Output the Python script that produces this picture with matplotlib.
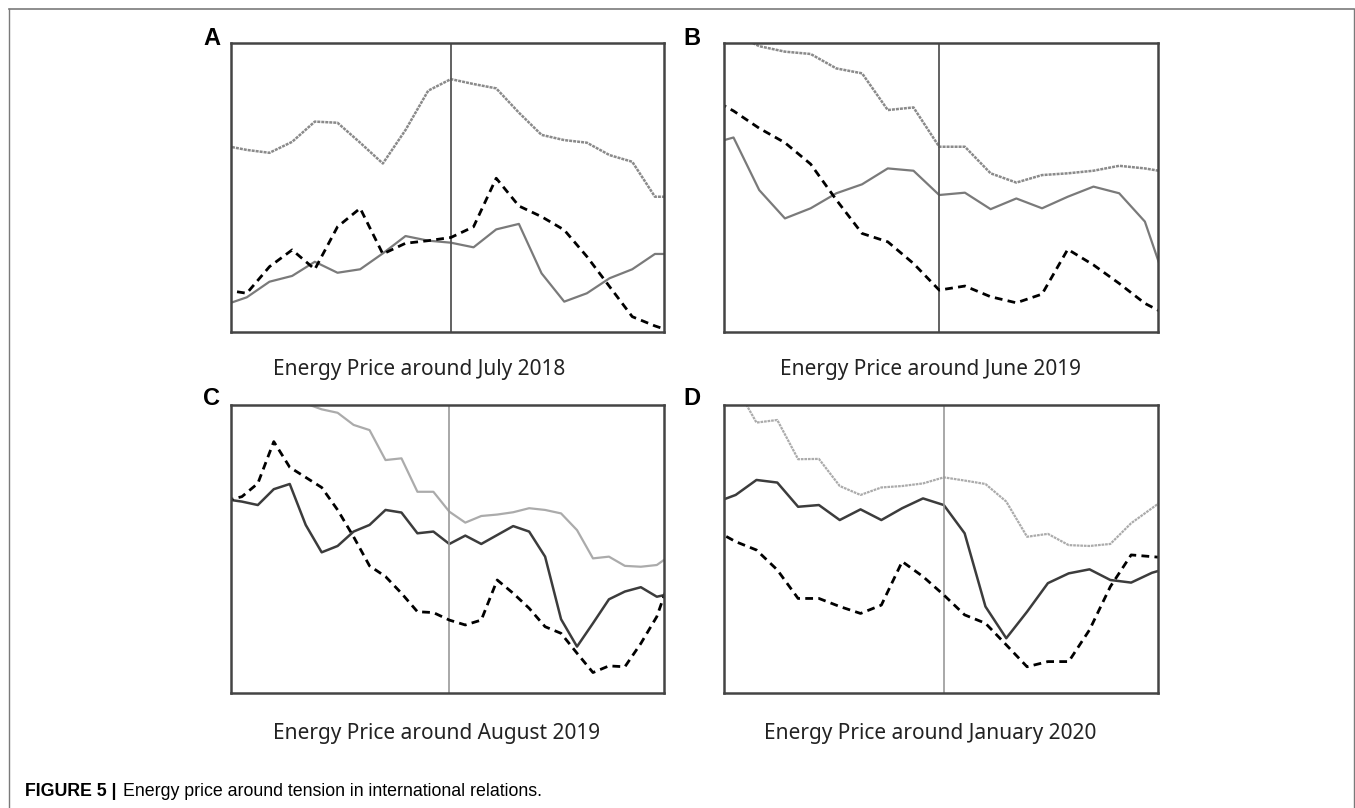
import numpy as np
import matplotlib
matplotlib.use("Agg")
import matplotlib.pyplot as plt
from matplotlib.lines import Line2D

# days relative to the event (vertical line at 0)
days_a = np.arange(-10, 11)
days_b = np.arange(-9, 10)
days_c = np.arange(-14, 15)
days_d = np.arange(-11, 12)

# panel A - July 2018 (values scaled 0-100 of the panel height)
a_dotted = [64.4, 62.9, 61.9, 65.7, 72.7, 72.3, 65.4, 58.2, 69.8, 83.4, 87.4,
            85.7, 84.2, 75.8, 68.1, 66.3, 65.4, 61.1, 58.8, 46.7, 46.7]
a_solid = [9.2, 11.9, 17.3, 19.3, 24.2, 20.4, 21.6, 27.1, 33.1, 31.5, 30.8,
           29.2, 35.4, 37.3, 20.2, 10.4, 13.3, 18.5, 21.6, 26.9, 26.9]
a_dashed = [14.5, 13.3, 22.5, 28.3, 21.6, 36.3, 42.7, 26.9, 30.6, 31.5, 32.6,
            36.3, 53.1, 43.5, 39.8, 35.2, 26.0, 15.6, 5.2, 2.0, -0.6]

# panel B - June 2019
b_dotted = [105.5, 103.2, 98.8, 96.9, 96.1, 91.1, 89.4, 76.7, 77.6, 64.0,
            64.0, 54.8, 51.6, 54.2, 54.8, 55.7, 57.4, 56.5, 55.0]
b_solid = [64.7, 67.2, 49.0, 39.2, 42.7, 47.9, 51.0, 56.5, 55.7, 47.3,
           48.1, 42.4, 46.1, 42.7, 46.7, 50.2, 47.9, 38.1, 12.1]
b_dashed = [81.3, 76.4, 70.4, 65.4, 58.0, 45.6, 34.0, 31.1, 23.6, 14.4,
            15.8, 12.1, 10.0, 13.0, 28.5, 23.1, 16.7, 9.8, 5.2]

# panel C - August 2019
c_light = [115, 113, 110, 107, 104, 100.5, 98.5, 97.3, 93.1, 91.3, 80.9, 81.5,
           69.9, 69.9, 63.0, 59.2, 61.5, 62.0, 62.8, 64.2, 63.6, 62.4, 56.6,
           46.8, 47.4, 44.2, 43.9, 44.5, 48.4]
c_solid = [67.3, 66.5, 65.3, 70.8, 72.6, 58.4, 48.9, 51.1, 56.1, 58.4, 63.6,
           62.7, 55.5, 56.1, 51.8, 54.7, 51.8, 54.9, 58.0, 56.1, 47.4, 25.7,
           16.2, 24.3, 32.6, 35.3, 36.8, 33.5, 34.7]
c_dashed = [66.8, 68.2, 72.8, 87.3, 78.4, 74.9, 71.4, 63.6, 54.3, 44.2, 40.5,
            34.7, 28.3, 28.0, 25.4, 23.7, 25.4, 39.3, 34.7, 29.5, 23.1, 20.8,
            13.9, 7.2, 9.5, 9.2, 17.3, 26.6, 42.4]

# panel D - January 2020
d_light = [113.3, 106.7, 93.9, 94.8, 81.2, 81.3, 71.9, 68.8, 71.4, 71.9, 72.8,
           74.9, 73.8, 72.6, 66.5, 54.3, 55.3, 51.4, 51.1, 51.8, 59.0, 64.2, 69.4]
d_solid = [66.1, 68.8, 74.0, 73.1, 64.7, 65.3, 60.1, 63.8, 60.1, 64.2, 67.6,
           65.3, 55.5, 30.1, 19.1, 28.3, 38.2, 41.6, 43.0, 39.3, 38.4, 41.8, 43.9]
d_dashed = [56.6, 52.6, 49.7, 42.8, 32.9, 32.9, 30.1, 27.7, 30.6, 45.7, 40.5,
            34.1, 27.2, 24.3, 16.8, 9.2, 11.0, 11.0, 22.0, 37.0, 48.0, 47.4, 46.8]

titles = ["Energy Price around July 2018", "Energy Price around June 2019",
          "Energy Price around August 2019", "Energy Price around January 2020"]
letters = ["A", "B", "C", "D"]

W, H = 1355, 808
fig = plt.figure(figsize=(W / 100, H / 100), dpi=100)

def px(x0, y0, x1, y1):
    return [x0 / W, 1 - y1 / H, (x1 - x0) / W, (y1 - y0) / H]

panels = [
    dict(rect=px(230.7, 42.7, 664, 331.7), x=days_a, xlim=(-9.71, 9.40),
         top=a_dotted, mid=a_solid, dash=a_dashed, dark=False),
    dict(rect=px(724, 42.7, 1158, 331.7), x=days_b, xlim=(-8.37, 8.51),
         top=b_dotted, mid=b_solid, dash=b_dashed, dark=False),
    dict(rect=px(230.7, 405, 664, 693.3), x=days_c, xlim=(-13.7, 13.45),
         top=c_light, mid=c_solid, dash=c_dashed, dark=True),
    dict(rect=px(724, 405, 1158, 693.3), x=days_d, xlim=(-10.56, 10.29),
         top=d_light, mid=d_solid, dash=d_dashed, dark=True),
]

for p in panels:
    ax = fig.add_axes(p["rect"])
    if p["dark"]:
        ax.plot(p["x"], p["top"], color="#ababab", lw=1.6,
                ls=(0, (1.2, 0.4)) if p is panels[3] else "-")
        ax.plot(p["x"], p["mid"], color="#3c3c3c", lw=1.8)
        ax.axvline(0, color="#9a9a9a", lw=1.2)
    else:
        ax.plot(p["x"], p["top"], color="#8a8a8a", lw=1.8, ls=(0, (1.2, 0.4)))
        ax.plot(p["x"], p["mid"], color="#7a7a7a", lw=1.6)
        ax.axvline(0, color="#555555", lw=1.3)
    ax.plot(p["x"], p["dash"], color="black", lw=2.0, ls=(0, (2.8, 1.9)))
    ax.set_xlim(*p["xlim"])
    ax.set_ylim(0, 100)
    ax.set_xticks([])
    ax.set_yticks([])
    for s in ax.spines.values():
        s.set_color("#444444")
        s.set_linewidth(1.8)

# panel titles and letters
title_pos = [(419, 370), (931, 370), (437, 733), (930, 733)]
for (x, y), t in zip(title_pos, titles):
    fig.text(x / W, 1 - y / H, t, ha="center", va="center",
             fontsize=15, color="#222222", family="Noto Sans")
letter_pos = [(203, 45), (683, 45), (203, 405), (683, 405)]
for (x, y), l in zip(letter_pos, letters):
    fig.text(x / W, 1 - y / H, l, ha="left", va="baseline", fontsize=17,
             fontweight="bold", family="Liberation Sans")

# caption
fig.text(25 / W, 1 - 792 / H, "FIGURE 5 |", ha="left", va="center",
         fontsize=12.8, fontweight="bold", family="Liberation Sans")
fig.text(123 / W, 1 - 792 / H, "Energy price around tension in international relations.",
         ha="left", va="center", fontsize=12.8, family="Liberation Sans")

# outer frame
fc = "#7a7a7a"
fig.add_artist(Line2D([9 / W, 1354 / W], [1 - 9 / H, 1 - 9 / H], color=fc, lw=1.2))
fig.add_artist(Line2D([9 / W, 9 / W], [0, 1 - 9 / H], color=fc, lw=1.0))
fig.add_artist(Line2D([1354 / W, 1354 / W], [0, 1 - 9 / H], color=fc, lw=1.0))

fig.savefig("out.png", dpi=100)
